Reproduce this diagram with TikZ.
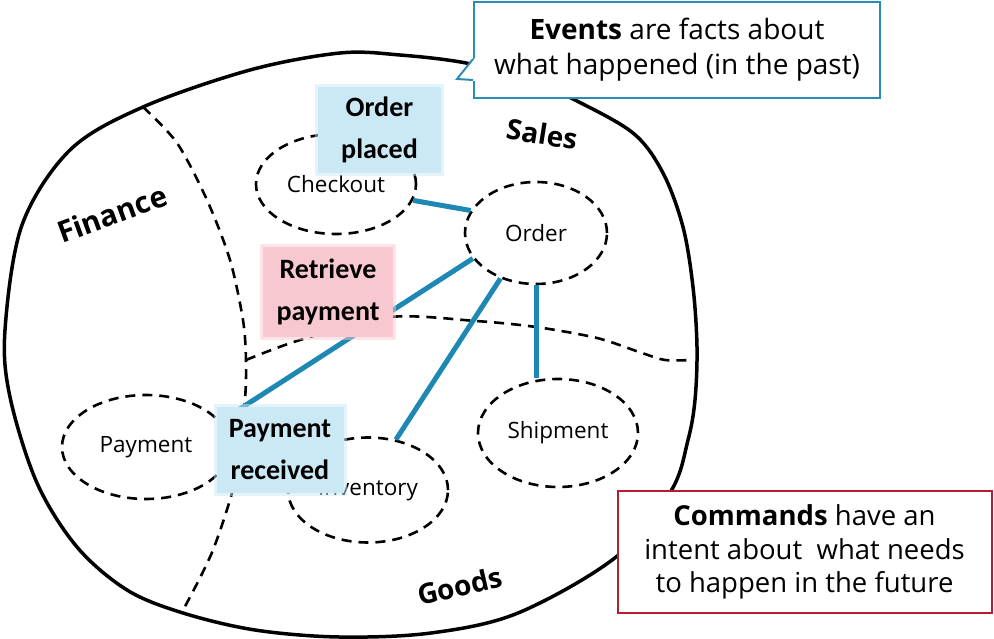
\documentclass[tikz,border=0pt]{standalone}
\usepackage{fontspec}
\setmainfont{Open Sans}
\newfontfamily\handfont{Carlito}
\usetikzlibrary{shapes.geometric}

\definecolor{linkblue}{RGB}{30,136,180}
\definecolor{eventblue}{RGB}{40,140,180}
\definecolor{cmdred}{RGB}{180,30,50}
\definecolor{stickyblue}{RGB}{203,232,245}
\definecolor{stickypink}{RGB}{248,200,208}

\tikzset{
  dashline/.style={dash pattern=on 10pt off 7pt, line width=2.6pt},
  sticky/.style={font=\handfont\bfseries\fontsize{28}{42}\selectfont, align=center,
    inner sep=0pt, draw opacity=.5, line width=6pt},
}

\begin{document}
\begin{tikzpicture}[x=1pt,y=-1pt]
        \useasboundingbox (0,0) rectangle (994,639);

        \draw[line width=3.5pt] plot[smooth cycle, tension=.55] coordinates {
          (5,330) (22,225) (70,150) (143,107) (250,70) (340,53) (400,55)
          (466,63) (530,80) (573,99) (633,133) (663,173) (683,227) (693,287)
          (697,347) (695,400) (688,440) (671,491) (616,557) (518,613)
          (431,633) (339,637) (255,630) (183,613) (127,590) (77,547)
          (37,483) (10,397)};

        \draw[dashline] plot[smooth] coordinates {
          (143,107) (177,143) (207,200) (230,260) (243,320) (246,360)
          (245,400) (238,470) (213,550) (182,612)};
        \draw[dashline] plot[smooth] coordinates {
          (246,360) (300,340) (390,317) (476,321) (536,327) (597,338)
          (642,353) (665,360) (693,360)};

        \begin{scope}[every node/.style={ellipse,draw,dashline,inner sep=0pt,
            font=\fontsize{22.5}{27}\selectfont}]
          \node[minimum width=160pt,minimum height=100pt] (checkout)  at (336,184) {Checkout};
          \node[minimum width=142pt,minimum height=102pt] (order)     at (536,233) {Order};
          \node[minimum width=168pt,minimum height=104pt] (payment)   at (146,447) {Payment};
          \node[minimum width=160pt,minimum height=105pt] (inventory) at (368,490) {Inventory};
          \node[minimum width=160pt,minimum height=108pt] (shipment)  at (558,433) {Shipment};
        \end{scope}

        \begin{scope}[every edge/.style={draw,linkblue,line width=5pt}]
          \path (checkout.348) edge (order.161);
          \path (order.202)    edge (payment.19);
          \path (order.232)    edge (inventory.61);
          \path (order.south)  edge (order.south |- shipment.north);
        \end{scope}

        \begin{scope}[every node/.style={sticky}]
          \node[fill=stickyblue, draw=stickyblue, minimum width=123pt, minimum height=86pt]
            (placed) at (379.5,130) {Order\\placed};
          \node[fill=stickypink, draw=stickypink, minimum width=130pt, minimum height=89pt]
            (retrieve) at (328,292) {Retrieve\\payment};
          \node[fill=stickyblue, draw=stickyblue, minimum width=127pt, minimum height=86pt]
            (received) at (280,450) {Payment\\received};
        \end{scope}

        \begin{scope}[every node/.style={font=\bfseries\fontsize{28}{33}\selectfont}]
          \node[rotate=20,font=\bfseries\fontsize{29.5}{34}\selectfont] (finance) at (112,214) {Finance};
          \node[rotate=-9] (sales)   at (542,134) {Sales};
          \node[rotate=13] (goods)   at (460,586) {Goods};
        \end{scope}

        \node[draw=eventblue, line width=2pt, fill=white, minimum width=406pt,
          minimum height=96pt, align=center, font=\fontsize{28}{35}\selectfont]
          (events) at (677,50) {\textbf{Events} are facts about\\what happened (in the past)};
        \fill[white] (475,58) -- (457,79) -- (475,81) -- cycle;
        \draw[eventblue, line width=2pt] (473,59) -- (457,79) -- (473,80);

        \node[draw=cmdred, line width=2pt, fill=white, minimum width=374pt,
          minimum height=122pt, align=center, font=\fontsize{27.5}{33.5}\selectfont]
          (commands) at (804.5,552) {\textbf{Commands} have an\\intent about\ \ what needs\\to happen in the future};

      \end{tikzpicture}
\end{document}
